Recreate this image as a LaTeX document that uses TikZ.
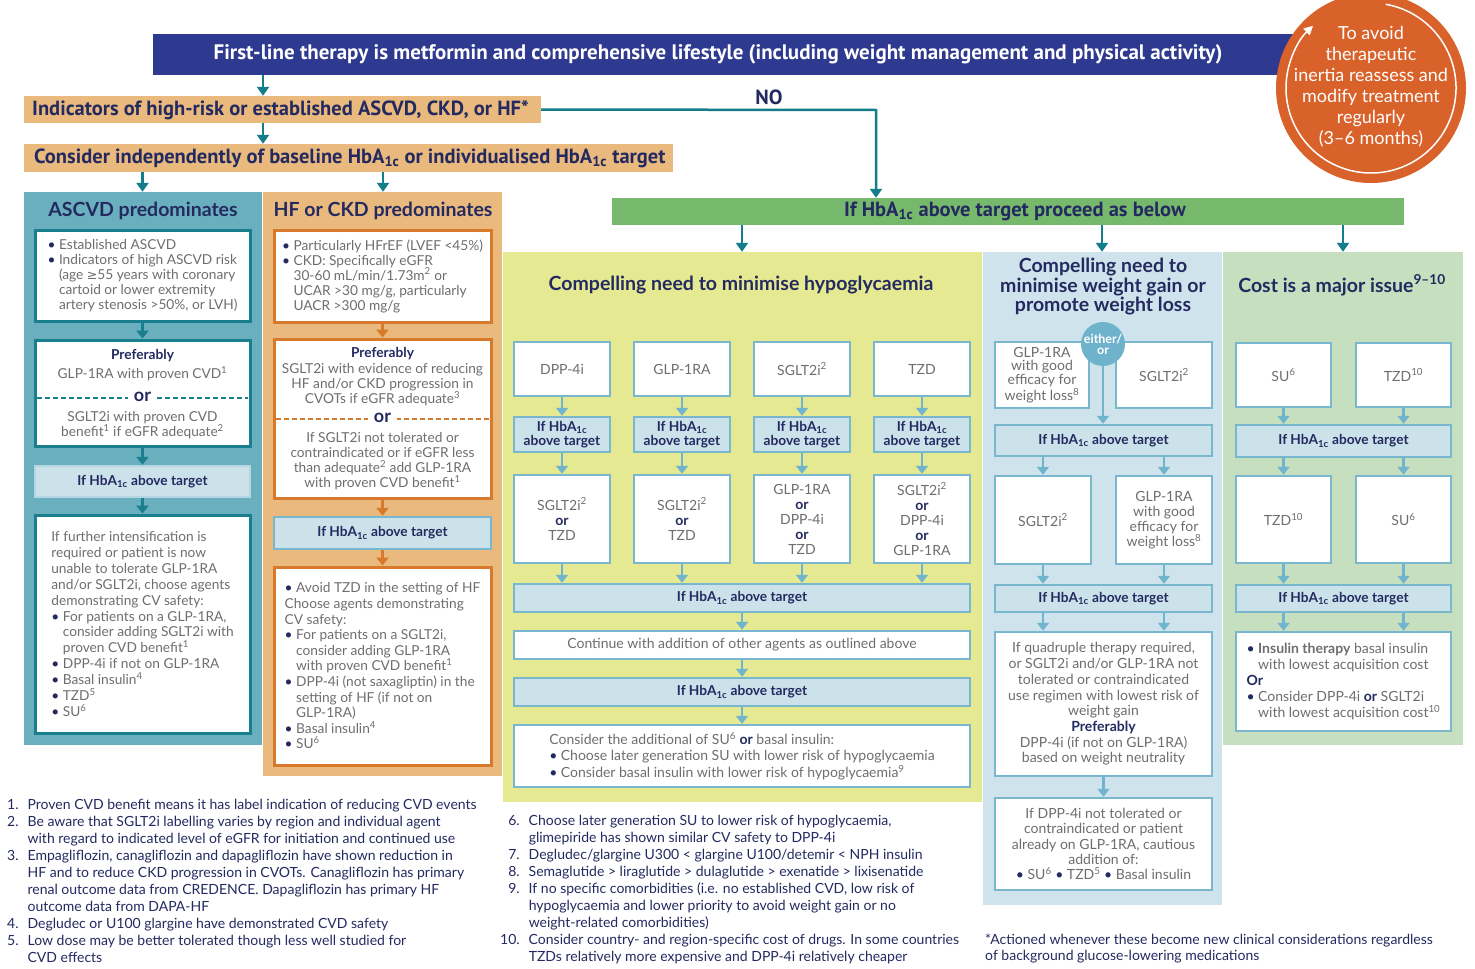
\documentclass[tikz,border=0pt]{standalone}
\usepackage{fontspec}
\setmainfont{Lato}
\newfontfamily\cond{PT Sans}
\newfontfamily\symf{DejaVu Sans}
\usetikzlibrary{arrows.meta}
\definecolor{navy}{RGB}{36,42,96}
\definecolor{bannerblue}{RGB}{46,57,144}
\definecolor{sand}{RGB}{233,185,125}
\definecolor{tealbg}{RGB}{105,175,189}
\definecolor{tealdk}{RGB}{25,126,142}
\definecolor{conn}{RGB}{19,125,140}
\definecolor{orbd}{RGB}{217,121,43}
\definecolor{lbfill}{RGB}{203,226,235}
\definecolor{lbbd}{RGB}{120,183,206}
\definecolor{lbarrow}{RGB}{112,180,205}
\definecolor{yel}{RGB}{229,233,145}
\definecolor{wbg}{RGB}{207,227,236}
\definecolor{cbg}{RGB}{197,223,191}
\definecolor{grn}{RGB}{118,185,108}
\definecolor{circ}{RGB}{217,98,43}
\definecolor{gtxt}{RGB}{109,110,113}
\definecolor{eo}{RGB}{111,178,204}
\newcommand\fs[2]{\fontsize{#1}{#2}\selectfont}
\newcommand\hba{HbA\textsubscript{1c}}
\newcommand\Bul{\makebox[11.5pt][l]{\textcolor{navy}{\textbullet}}}
\newcommand\Ind{\hspace*{11.5pt}}
\newcommand\sps[1]{\textsuperscript{#1}}
\newcommand\orb{\textcolor{navy}{\bfseries or}}
\newcommand\mybox[7]{\node[#1, minimum width={#5-#3}, minimum height={#6-#4}] (#2) at ({(#3+#5)/2},{(#4+#6)/2}) {#7};}
\begin{document}
\begin{tikzpicture}[x=1pt,y=-1pt,
  every node/.style={inner sep=0pt, text=gtxt, font=\fs{13.7}{15}},
  tbox/.style={draw=tealdk, line width=3pt, fill=white, align=center},
  obox/.style={draw=orbd, line width=3pt, fill=white, align=center},
  wbox/.style={draw=lbbd, line width=2.5pt, fill=white, align=center, font=\fs{14}{15}},
  hbox/.style={draw=lbbd, line width=2.5pt, fill=lbfill, align=center, text=navy, font=\bfseries\fs{13.7}{14}},
  ahbox/.style={hbox, draw=lbbd!55},
  tarr/.style={draw=tealdk, line width=2.5pt, -{Triangle[width=12pt,length=8pt]}},
  oarr/.style={tarr, draw=orbd},
  larr/.style={tarr, draw=lbarrow},
  carr/.style={draw=conn, line width=2.5pt, -{Triangle[width=12pt,length=9pt]}},
  ttl/.style={text=navy, font=\bfseries\fs{19.5}{20}, align=center},
  hdr/.style={text=navy, font=\cond\bfseries\fs{20.5}{22}},
  prf/.style={text=navy, font=\bfseries\fs{13.7}{15}},
  orn/.style={fill=white, inner xsep=6pt, inner ysep=1pt, text=navy, font=\bfseries\fs{18}{18}},
  fnote/.style={anchor=north west, text=navy, font=\fs{14}{17}, align=left}
]
\useasboundingbox (0,0) rectangle (1475,969);
\fill[white] (0,0) rectangle (1475,969);

% column backgrounds
\mybox{fill=tealbg}{ascbg}{24}{192}{262}{745}{}
\mybox{fill=sand}{hfbg}{263}{192}{502}{776}{}
\mybox{fill=yel}{hyobg}{503}{252}{982}{802}{}
\mybox{fill=wbg}{wtbg}{983}{252}{1222}{905}{}
\mybox{fill=cbg}{cobg}{1223}{252}{1463}{745}{}

% top section
\mybox{fill=bannerblue}{banner}{153}{34}{1295}{75}{}
\node[text=white, font=\cond\bfseries\fs{21}{22}] (bannert) at (718,54) {First-line therapy is metformin and comprehensive lifestyle (including weight management and physical activity)};
\mybox{fill=sand}{b1}{24}{96}{541}{123}{}
\node[hdr, anchor=west] (b1t) at (32,110) {Indicators of high-risk or established ASCVD, CKD, or HF*};
\mybox{fill=sand}{b2}{24}{144}{673}{172}{}
\node[hdr, anchor=west] (b2t) at (34,158) {Consider independently of baseline \hba{} or individualised \hba{} target};
\mybox{fill=grn}{gb}{612}{198}{1404}{225}{}
\node[hdr] (gbt) at (1015,211) {If \hba{} above target proceed as below};
\node[hdr] (no) at (769,97) {NO};

% circle
\fill[circ] (1371,88) circle[radius=95pt];
\draw[white, line width=1.5pt, -{Triangle[width=9pt,length=9pt]}] ([shift={(80:85pt)}]1371,88) arc[start angle=80, end angle=-227, radius=85pt];
\node[text=white, font=\fs{18}{21}, align=center] (circt) at (1371,86.5) {To avoid\\therapeutic\\inertia reassess and\\modify treatment\\regularly\\(3--6 months)};

% top connectors
\coordinate (cx1) at (263,0);
\coordinate (cxa) at (142.5,0);
\coordinate (cxh) at (383,0);
\coordinate (nocorner) at (876,110);
\draw[carr] (banner.south -| cx1) -- (b1.north -| cx1);
\draw[carr] (b1.south -| cx1) -- (b2.north -| cx1);
\draw[carr] (b2.south -| cxa) -- (ascbg.north -| cxa);
\draw[carr] (b2.south -| cxh) -- (hfbg.north -| cxh);
\draw[carr] (b1.east) -- (nocorner) -- (nocorner |- gb.north);
\coordinate (g1) at (742,0);
\coordinate (g2) at (1102,0);
\coordinate (g3) at (1343,0);
\draw[carr] (gb.south -| g1) -- (hyobg.north -| g1);
\draw[carr] (gb.south -| g2) -- (wtbg.north -| g2);
\draw[carr] (gb.south -| g3) -- (cobg.north -| g3);

% ASCVD column
\node[ttl] (asct) at (143,211) {ASCVD predominates};
\mybox{tbox, align=left}{a1}{35}{230}{250}{321}{\Bul Established ASCVD\\ \Bul Indicators of high ASCVD risk\\ \Ind(age {\symf\fs{12.5}{15}≥}55 years with coronary\\ \Ind cartoid or lower extremity\\ \Ind artery stenosis >50\%, or LVH)}
\mybox{tbox}{a2}{35}{340}{250}{446}{}
\node[prf] (a2p) at (142.5,356) {Preferably};
\node (a2a) at (142.5,374) {GLP-1RA with proven CVD\sps{1}};
\draw[tealdk, line width=1.8pt, dash pattern=on 5pt off 3pt] (37,398) -- (248,398);
\node[orn] (a2or) at (142.5,397) {or};
\node[align=center] (a2b) at (142.5,425.5) {SGLT2i with proven CVD\\benefit\sps{1} if eGFR adequate\sps{2}};
\mybox{ahbox}{a3}{35}{466}{250}{497}{If \hba{} above target}
\mybox{tbox, align=left, font=\fs{13.7}{15.9}}{a4}{35}{515}{250}{733}{If further intensification is\\ required or patient is now\\ unable to tolerate GLP-1RA\\ and/or SGLT2i, choose agents\\ demonstrating CV safety:\\ \Bul For patients on a GLP-1RA,\\ \Ind consider adding SGLT2i with\\ \Ind proven CVD benefit\sps{1}\\ \Bul DPP-4i if not on GLP-1RA\\ \Bul Basal insulin\sps{4}\\ \Bul TZD\sps{5}\\ \Bul SU\sps{6}}
\draw[tarr] (a1.south) -- (a2.north);
\draw[tarr] (a2.south) -- (a3.north);
\draw[tarr] (a3.south) -- (a4.north);

% HF column
\node[ttl] (hft) at (383,211) {HF or CKD predominates};
\mybox{obox, align=left}{h1}{274}{230}{491}{322}{\Bul Particularly HFrEF (LVEF <45\%)\\ \Bul CKD: Specifically eGFR\\ \Ind 30-60 mL/min/1.73m\sps{2} or\\ \Ind UCAR >30 mg/g, particularly\\ \Ind UACR >300 mg/g}
\mybox{obox}{h2}{274}{339}{491}{498}{}
\node[prf] (h2p) at (382.5,354) {Preferably};
\node[align=center] (h2a) at (382.5,384.5) {SGLT2i with evidence of reducing\\HF and/or CKD progression in\\CVOTs if eGFR adequate\sps{3}};
\draw[orbd, line width=1.8pt, dash pattern=on 5pt off 3pt] (276,419) -- (489,419);
\node[orn] (h2or) at (382.5,418) {or};
\node[align=center] (h2b) at (382.5,461.5) {If SGLT2i not tolerated or\\contraindicated or if eGFR less\\than adequate\sps{2} add GLP-1RA\\with proven CVD benefit\sps{1}};
\mybox{hbox}{h3}{274}{517}{491}{549}{If \hba{} above target}
\mybox{obox, align=left, font=\fs{13.7}{15.6}}{h4}{274}{567}{491}{765}{\Bul Avoid TZD in the setting of HF\\ Choose agents demonstrating\\ CV safety:\\ \Bul For patients on a SGLT2i,\\ \Ind consider adding GLP-1RA\\ \Ind with proven CVD benefit\sps{1}\\ \Bul DPP-4i (not saxagliptin) in the\\ \Ind setting of HF (if not on\\ \Ind GLP-1RA)\\ \Bul Basal insulin\sps{4}\\ \Bul SU\sps{6}}
\draw[oarr] (h1.south) -- (h2.north);
\draw[oarr] (h2.south) -- (h3.north);
\draw[oarr] (h3.south) -- (h4.north);

% Hypoglycaemia column
\node[ttl] (hyt) at (741,285) {Compelling need to minimise hypoglycaemia};
\mybox{wbox}{p1}{514}{342}{610}{396}{DPP-4i}
\mybox{wbox}{q1}{634}{342}{730}{396}{GLP-1RA}
\mybox{wbox}{r1}{754}{342}{850}{396}{SGLT2i\sps{2}}
\mybox{wbox}{s1}{874}{342}{970}{396}{TZD}
\mybox{hbox}{p2}{514}{417}{610}{452}{If \hba\\above target}
\mybox{hbox}{q2}{634}{417}{730}{452}{If \hba\\above target}
\mybox{hbox}{r2}{754}{417}{850}{452}{If \hba\\above target}
\mybox{hbox}{s2}{874}{417}{970}{452}{If \hba\\above target}
\mybox{wbox}{p3}{514}{475}{610}{563}{SGLT2i\sps{2}\\\orb\\TZD}
\mybox{wbox}{q3}{634}{475}{730}{563}{SGLT2i\sps{2}\\\orb\\TZD}
\mybox{wbox}{r3}{754}{475}{850}{563}{GLP-1RA\\\orb\\DPP-4i\\\orb\\TZD}
\mybox{wbox}{s3}{874}{475}{970}{563}{SGLT2i\sps{2}\\\orb\\DPP-4i\\\orb\\GLP-1RA}
\mybox{hbox}{hw1}{514}{584}{970}{612}{If \hba{} above target}
\mybox{wbox}{hw2}{514}{631}{970}{659}{Continue with addition of other agents as outlined above}
\mybox{hbox}{hw3}{514}{678}{970}{706}{If \hba{} above target}
\mybox{wbox, align=left, font=\fs{14}{16.5}}{hw4}{514}{725}{970}{787}{Consider the additional of SU\sps{6} \orb{} basal insulin:\\ \Bul Choose later generation SU with lower risk of hypoglycaemia\\ \Bul Consider basal insulin with lower risk of hypoglycaemia\sps{9}}
\foreach \n in {p,q,r,s}{
  \draw[larr] (\n1.south) -- (\n2.north);
  \draw[larr] (\n2.south) -- (\n3.north);
  \draw[larr] (\n3.south) -- (\n3.south |- hw1.north);
}
\draw[larr] (hw1.south) -- (hw2.north);
\draw[larr] (hw2.south) -- (hw3.north);
\draw[larr] (hw3.south) -- (hw4.north);

% Weight column
\node[ttl, font=\bfseries\fs{19.5}{19.5}] (wtt) at (1103,287) {Compelling need to\\minimise weight gain or\\promote weight loss};
\mybox{wbox, font=\fs{14}{13.7}}{w1}{995}{342}{1089}{408}{GLP-1RA\\with good\\efficacy for\\weight loss\sps{8}}
\mybox{wbox}{w2}{1116}{342}{1212}{408}{SGLT2i\sps{2}}
\node[circle, fill=eo, minimum size=44pt, text=white, font=\bfseries\fs{12.5}{11}, align=center] (eo) at (1103,344) {either/\\or};
\mybox{hbox}{wh1}{995}{425}{1212}{456}{If \hba{} above target}
\mybox{wbox}{w3}{995}{476}{1091}{564}{SGLT2i\sps{2}}
\mybox{wbox}{w4}{1116}{476}{1212}{564}{GLP-1RA\\with good\\efficacy for\\weight loss\sps{8}}
\mybox{hbox}{wh2}{995}{585}{1212}{612}{If \hba{} above target}
\mybox{wbox, font=\fs{14}{15.7}}{w5}{995}{632}{1212}{776}{If quadruple therapy required,\\or SGLT2i and/or GLP-1RA not\\tolerated or contraindicated\\use regimen with lowest risk of\\weight gain\\{\color{navy}\bfseries Preferably}\\DPP-4i (if not on GLP-1RA)\\based on weight neutrality}
\mybox{wbox, font=\fs{14}{15.2}}{w6}{995}{798}{1212}{890}{If DPP-4i not tolerated or\\contraindicated or patient\\already on GLP-1RA, cautious\\addition of:\\\textcolor{navy}{\textbullet} SU\sps{6} \textcolor{navy}{\textbullet} TZD\sps{5} \textcolor{navy}{\textbullet} Basal insulin}
\draw[larr] (eo.south) -- (eo.south |- wh1.north);
\draw[larr] (wh1.south -| w3.north) -- (w3.north);
\draw[larr] (wh1.south -| w4.north) -- (w4.north);
\draw[larr] (w3.south) -- (w3.south |- wh2.north);
\draw[larr] (w4.south) -- (w4.south |- wh2.north);
\draw[larr] (wh2.south -| w3.south) -- (w5.north -| w3.south);
\draw[larr] (wh2.south -| w4.south) -- (w5.north -| w4.south);
\draw[larr] (w5.south) -- (w6.north);

% Cost column
\node[ttl] (cot) at (1342,285) {Cost is a major issue\sps{9--10}};
\mybox{wbox}{c1}{1236}{343}{1331}{407}{SU\sps{6}}
\mybox{wbox}{c2}{1356}{343}{1451}{407}{TZD\sps{10}}
\mybox{hbox}{ch1}{1236}{425}{1451}{457}{If \hba{} above target}
\mybox{wbox}{c3}{1236}{476}{1331}{563}{TZD\sps{10}}
\mybox{wbox}{c4}{1356}{476}{1451}{563}{SU\sps{6}}
\mybox{hbox}{ch2}{1236}{585}{1451}{612}{If \hba{} above target}
\mybox{wbox, align=left, font=\fs{14}{16}}{c5}{1236}{632}{1451}{731}{\Bul\textbf{Insulin therapy} basal insulin\\ \Ind with lowest acquisition cost\\ \textcolor{navy}{\bfseries Or}\\ \Bul Consider DPP-4i \orb{} SGLT2i\\ \Ind with lowest acquisition cost\sps{10}}
\draw[larr] (c1.south) -- (c1.south |- ch1.north);
\draw[larr] (c2.south) -- (c2.south |- ch1.north);
\draw[larr] (ch1.south -| c3.north) -- (c3.north);
\draw[larr] (ch1.south -| c4.north) -- (c4.north);
\draw[larr] (c3.south) -- (c3.south |- ch2.north);
\draw[larr] (c4.south) -- (c4.south |- ch2.north);
\draw[larr] (ch2.south -| c3.south) -- (c5.north -| c3.south);
\draw[larr] (ch2.south -| c4.south) -- (c5.north -| c4.south);

% footnotes
\node[fnote] (fn1) at (7,797) {\begin{tabular}{@{}r@{\hspace{9pt}}l@{}}
1. & Proven CVD benefit means it has label indication of reducing CVD events\\
2. & Be aware that SGLT2i labelling varies by region and individual agent\\
   & with regard to indicated level of eGFR for initiation and continued use\\
3. & Empagliflozin, canagliflozin and dapagliflozin have shown reduction in\\
   & HF and to reduce CKD progression in CVOTs. Canagliflozin has primary\\
   & renal outcome data from CREDENCE. Dapagliflozin has primary HF\\
   & outcome data from DAPA-HF\\
4. & Degludec or U100 glargine have demonstrated CVD safety\\
5. & Low dose may be better tolerated though less well studied for\\
   & CVD effects
\end{tabular}};
\node[fnote] (fn2) at (500,813) {\begin{tabular}{@{}r@{\hspace{9pt}}l@{}}
6. & Choose later generation SU to lower risk of hypoglycaemia,\\
   & glimepiride has shown similar CV safety to DPP-4i\\
7. & Degludec/glargine U300 < glargine U100/detemir < NPH insulin\\
8. & Semaglutide > liraglutide > dulaglutide > exenatide > lixisenatide\\
9. & If no specific comorbidities (i.e. no established CVD, low risk of\\
   & hypoglycaemia and lower priority to avoid weight gain or no\\
   & weight-related comorbidities)\\
10. & Consider country- and region-specific cost of drugs. In some countries\\
   & TZDs relatively more expensive and DPP-4i relatively cheaper
\end{tabular}};
\node[fnote, font=\fs{14}{16}] (fn3) at (985,934) {*Actioned whenever these become new clinical considerations regardless\\of background glucose-lowering medications};
\end{tikzpicture}
\end{document}
